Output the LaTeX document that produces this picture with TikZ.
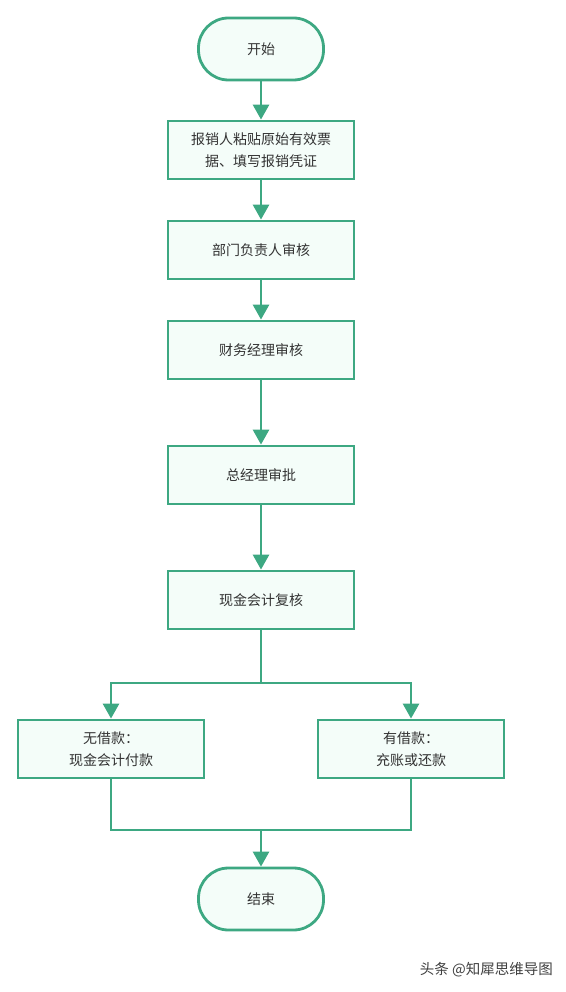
\documentclass[tikz,border=0pt]{standalone}
\usepackage{fontspec}
\setmainfont{Noto Sans CJK SC}
\usetikzlibrary{arrows.meta}
\definecolor{edge}{HTML}{3DA882}
\definecolor{boxfill}{HTML}{F4FDF9}
\definecolor{txt}{HTML}{333333}
\tikzset{
  x=1pt,y=-1pt,
  base/.style={draw=edge,line width=2.8pt,fill=boxfill,text=txt,font=\fontsize{14pt}{22pt}\selectfont,align=center,inner sep=0pt},
  term/.style={base,minimum width=125pt,minimum height=62pt,rounded corners=30pt},
  proc/.style={base,minimum width=186pt,minimum height=58pt},
  conn/.style={draw=edge,line width=2.8pt,-{Triangle[length=15pt,width=16pt]}},
  line/.style={draw=edge,line width=2.8pt}
}
\begin{document}
\begin{tikzpicture}
\useasboundingbox (0,0) rectangle (565,992);
\node[term] (start) at (261,49) {开始};
\node[proc] (b1) at (261,150) {报销人粘贴原始有效票\\据、填写报销凭证};
\node[proc] (b2) at (261,250) {部门负责人审核};
\node[proc] (b3) at (261,350) {财务经理审核};
\node[proc] (b4) at (261,475) {总经理审批};
\node[proc] (b5) at (261,600) {现金会计复核};
\node[proc] (l) at (111,749) {无借款：\\现金会计付款};
\node[proc] (r) at (411,749) {有借款：\\充账或还款};
\node[term] (end) at (261,899) {结束};
\coordinate (split) at (261,683);
\coordinate (join) at (261,830);
\draw[conn] (start) -- (b1);
\draw[conn] (b1) -- (b2);
\draw[conn] (b2) -- (b3);
\draw[conn] (b3) -- (b4);
\draw[conn] (b4) -- (b5);
\draw[line] (b5) -- (split);
\draw[conn] (split) -| (l);
\draw[conn] (split) -| (r);
\draw[line] (l) |- (join);
\draw[line] (r) |- (join);
\draw[conn] (join) -- (end);
\node[text=black!75,font=\fontsize{14.5pt}{16pt}\selectfont,anchor=east,inner sep=0pt] (wm) at (553,970) {头条 @知犀思维导图};
\end{tikzpicture}
\end{document}
